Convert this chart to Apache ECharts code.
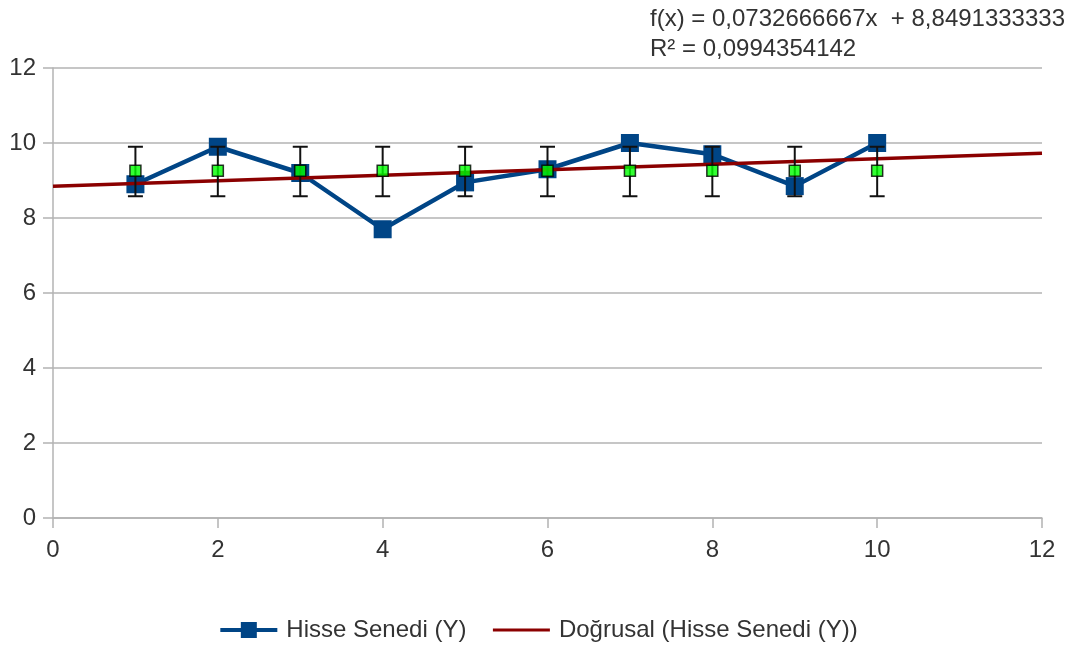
<!DOCTYPE html>
<html>
<head>
<meta charset="utf-8">
<script src="https://cdn.jsdelivr.net/npm/echarts@6/dist/echarts.min.js"></script>
<style>
  html, body { margin: 0; padding: 0; background: #fff; }
  #container { width: 1076px; height: 652px; }
</style>
</head>
<body>
<div id="container"></div>
<script>
const chartIns = echarts.init(document.getElementById('container'));

// values
const xValues = [1, 2, 3, 4, 5, 6, 7, 8, 9, 10];
const stockValues = [8.9, 9.9, 9.2, 7.7, 8.95, 9.3, 10.0, 9.7, 8.85, 10.0];
const meanValues = [9.26, 9.26, 9.26, 9.26, 9.26, 9.26, 9.26, 9.26, 9.26, 9.26];
const errLow = [8.58, 8.58, 8.58, 8.58, 8.58, 8.58, 8.58, 8.58, 8.58, 8.58];
const errHigh = [9.9, 9.9, 9.9, 9.9, 9.9, 9.9, 9.9, 9.9, 9.9, 9.9];
const trendX = [0, 12];
const trendY = [8.849, 9.728];
const equationLines = ['f(x) = 0,0732666667x  + 8,8491333333', 'R² = 0,0994354142'];

const FONT = 'Liberation Sans';
const TEXT = '#333333';
const AXIS = '#b3b3b3';
const FS = 24;

const stockData = xValues.map((x, i) => [x, stockValues[i]]);
const meanData = xValues.map((x, i) => [x, meanValues[i]]);
const errData = xValues.map((x, i) => [x, errLow[i], errHigh[i]]);
const trendData = trendX.map((x, i) => [x, trendY[i]]);

const option = {
  animation: false,
  grid: { left: 53, right: 34, top: 68, bottom: 134 },
  graphic: [
    {
      type: 'text', left: 650, top: 4,
      style: { text: equationLines.join('\n'), font: FS + 'px "' + FONT + '"', fill: TEXT, lineHeight: 30, textAlign: 'left' }
    }
  ],
  legend: {
    bottom: 5,
    left: 'center',
    itemWidth: 57,
    itemHeight: 20,
    itemGap: 25,
    textStyle: { fontFamily: FONT, fontSize: FS, color: TEXT, padding: [0, 0, 0, 4] },
    data: [
      { name: 'Hisse Senedi (Y)', lineStyle: { width: 4 } },
      { name: 'Doğrusal (Hisse Senedi (Y))', itemStyle: { opacity: 0 }, lineStyle: { width: 3 } }
    ]
  },
  xAxis: {
    type: 'value', min: 0, max: 12, interval: 2,
    axisLine: { show: true, lineStyle: { color: AXIS, width: 1.5 } },
    axisTick: { show: true, length: 10, lineStyle: { color: AXIS, width: 1.5 } },
    axisLabel: { fontFamily: FONT, fontSize: FS, color: TEXT, margin: 20 },
    splitLine: { show: false }
  },
  yAxis: {
    type: 'value', min: 0, max: 12, interval: 2,
    axisLine: { show: true, lineStyle: { color: AXIS, width: 1.5 } },
    axisTick: { show: true, length: 10, lineStyle: { color: AXIS, width: 1.5 } },
    axisLabel: { fontFamily: FONT, fontSize: FS, color: TEXT, margin: 17 },
    splitLine: { show: true, lineStyle: { color: AXIS, width: 1.5 } }
  },
  series: [
    {
      name: 'Hisse Senedi (Y)',
      type: 'line',
      data: stockData,
      symbol: 'rect',
      symbolSize: 18,
      lineStyle: { color: '#004586', width: 4.5 },
      itemStyle: { color: '#004586' },
      z: 2
    },
    {
      name: 'Doğrusal (Hisse Senedi (Y))',
      type: 'line',
      data: trendData,
      showSymbol: false,
      symbol: 'none',
      lineStyle: { color: '#8b0000', width: 3.5 },
      itemStyle: { color: '#8b0000' },
      z: 3
    },
    {
      name: 'errors',
      type: 'custom',
      data: errData,
      z: 4,
      renderItem: function (params, api) {
        const x = api.value(0);
        const lo = api.coord([x, api.value(1)]);
        const hi = api.coord([x, api.value(2)]);
        const half = 7.5;
        const style = { stroke: '#111', lineWidth: 2 };
        return {
          type: 'group',
          children: [
            { type: 'line', shape: { x1: lo[0], y1: lo[1], x2: hi[0], y2: hi[1] }, style: style },
            { type: 'line', shape: { x1: lo[0] - half, y1: lo[1], x2: lo[0] + half, y2: lo[1] }, style: style },
            { type: 'line', shape: { x1: hi[0] - half, y1: hi[1], x2: hi[0] + half, y2: hi[1] }, style: style }
          ]
        };
      }
    },
    {
      name: 'mean',
      type: 'scatter',
      data: meanData,
      symbol: 'rect',
      symbolSize: 11,
      itemStyle: { color: '#00ff00', borderColor: '#000', borderWidth: 1.5 },
      z: 5
    }
  ]
};

chartIns.setOption(option);
</script>
</body>
</html>
